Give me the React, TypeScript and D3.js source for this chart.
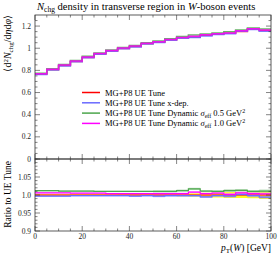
import * as d3 from "d3";

const BIN_EDGES = [0, 5, 10, 15, 20, 25, 30, 35, 40, 45, 50, 55, 60, 65, 70, 75, 80, 85, 90, 95, 100];

// reference: MG+P8 UE Tune
const REF = [0.766, 0.806, 0.843, 0.88, 0.917, 0.948, 0.975, 0.997, 1.015, 1.04, 1.055, 1.074, 1.092, 1.1, 1.117, 1.126, 1.135, 1.15, 1.172, 1.16];
const REF_ERR = [0.002, 0.002, 0.002, 0.002, 0.002, 0.002, 0.002, 0.003, 0.003, 0.003, 0.003, 0.003, 0.004, 0.005, 0.006, 0.007, 0.008, 0.008, 0.009, 0.011];

// ratios to reference
const RATIO_XDEP = [0.997, 0.997, 0.997, 0.998, 0.998, 0.998, 0.998, 0.998, 0.997, 0.998, 0.997, 0.998, 0.998, 0.998, 0.995, 0.998, 0.997, 1.002, 0.998, 0.994];
const RATIO_DYN05 = [1.012, 1.012, 1.011, 1.011, 1.011, 1.01, 1.01, 1.01, 1.01, 1.01, 1.01, 1.01, 1.012, 1.017, 1.011, 1.01, 1.012, 1.013, 1.01, 1.011];
const RATIO_DYN10 = [1.006, 1.006, 1.006, 1.005, 1.005, 1.005, 1.004, 1.004, 1.004, 1.004, 1.004, 1.004, 1.004, 1.008, 1.004, 1.005, 1.002, 1.006, 1.004, 1.003];
const BAND_ERR = [0.002, 0.002, 0.002, 0.002, 0.002, 0.002, 0.002, 0.002, 0.002, 0.002, 0.003, 0.003, 0.003, 0.003, 0.003, 0.003, 0.004, 0.004, 0.004, 0.004];

const MAIN_TICKS = [0, 0.2, 0.4, 0.6, 0.8, 1, 1.2];
const MAIN_LABELS = ["0", "0.2", "0.4", "0.6", "0.8", "1", "1.2"];
const RATIO_TICKS = [0.9, 0.95, 1.0, 1.05];
const RATIO_LABELS = ["0.9", "0.95", "1.0", "1.05"];
const X_TICKS = [0, 20, 40, 60, 80, 100];

const W = 280;
const H = 253;
const L = 35;
const R = 271;
const T = 15;
const MB = 159;
const RB = 231;
const FONT = "'Liberation Serif', serif";

const series = [
  { name: "MG+P8 UE Tune", ratio: REF.map(() => 1), err: REF_ERR, color: "#ff0000", band: "#ffff00", extra: null },
  { name: "MG+P8 UE Tune x-dep.", ratio: RATIO_XDEP, err: BAND_ERR, color: "#6a6aff", band: "#9999ff", extra: null },
  { name: "MG+P8 UE Tune Dynamic", ratio: RATIO_DYN05, err: BAND_ERR, color: "#4ca64c", band: "#99cc99", extra: "0.5" },
  { name: "MG+P8 UE Tune Dynamic", ratio: RATIO_DYN10, err: BAND_ERR, color: "#ff00ff", band: "#ff99ff", extra: "1.0" },
];

export default function App() {
  const x = d3.scaleLinear().domain([0, 100]).range([L, R]);
  const yMain = d3.scaleLinear().domain([0, 1.3]).range([MB, T]);
  const yRatio = d3.scaleLinear().domain([0.9, 1.1]).range([RB, MB]);

  const pts = (vals: number[]) => {
    const p = vals.map((v, i) => [BIN_EDGES[i], v] as [number, number]);
    p.push([BIN_EDGES[vals.length], vals[vals.length - 1]]);
    return p;
  };

  const mainLine = d3
    .line<[number, number]>()
    .x((d) => x(d[0]))
    .y((d) => yMain(d[1]))
    .curve(d3.curveStepAfter);
  const ratioLine = d3
    .line<[number, number]>()
    .x((d) => x(d[0]))
    .y((d) => yRatio(d[1]))
    .curve(d3.curveStepAfter);
  const ratioArea = d3
    .area<[number, number, number]>()
    .x((d) => x(d[0]))
    .y0((d) => yRatio(d[1]))
    .y1((d) => yRatio(d[2]))
    .curve(d3.curveStepAfter);

  const bandPts = (ratio: number[], err: number[]) => {
    const p = ratio.map((v, i) => [BIN_EDGES[i], v - err[i], v + err[i]] as [number, number, number]);
    const n = ratio.length - 1;
    p.push([BIN_EDGES[n + 1], ratio[n] - err[n], ratio[n] + err[n]]);
    return p;
  };

  const xMinor = d3.range(0, 101, 5);
  const mainMinor = d3.range(0, 1.3, 0.05);
  const ratioMinor = d3.range(0.9, 1.1001, 0.01);

  const tickStroke = "#333";

  return (
    <svg width={W} height={H} style={{ position: "absolute", left: 0, top: 0 }} fontFamily={FONT}>
      <rect width={W} height={H} fill="#fff" />

      {/* title */}
      <text x={37} y={10} fontSize={10.6}>
        <tspan fontStyle="italic">N</tspan>
        <tspan fontSize={7.5} dy={2}>chg</tspan>
        <tspan dy={-2}> density in transverse region in </tspan>
        <tspan fontStyle="italic">W</tspan>
        <tspan>-boson events</tspan>
      </text>

      {/* ratio bands */}
      {series.map((s, i) => (
        <path key={"b" + i} d={ratioArea(bandPts(s.ratio, s.err)) ?? ""} fill={s.band} opacity={i === 0 ? 0.9 : 0.6} />
      ))}
      {/* ratio lines */}
      {series.map((s, i) => (
        <path key={"r" + i} d={ratioLine(pts(s.ratio)) ?? ""} fill="none" stroke={s.color} strokeWidth={1.2} />
      ))}
      {/* main lines */}
      {series.map((s, i) => (
        <path
          key={"m" + i}
          d={mainLine(pts(REF.map((v, j) => v * s.ratio[j]))) ?? ""}
          fill="none"
          stroke={s.color}
          strokeWidth={1.5}
          opacity={0.85}
        />
      ))}

      {/* frames */}
      <rect x={L} y={T} width={R - L} height={MB - T} fill="none" stroke={tickStroke} strokeWidth={0.8} />
      <rect x={L} y={MB} width={R - L} height={RB - MB} fill="none" stroke={tickStroke} strokeWidth={0.8} />

      {/* x ticks */}
      {xMinor.map((v) => {
        const len = v % 20 === 0 ? 5 : 2.5;
        const xx = x(v);
        return (
          <g key={"xt" + v} stroke={tickStroke} strokeWidth={0.6}>
            <line x1={xx} x2={xx} y1={T} y2={T + len} />
            <line x1={xx} x2={xx} y1={MB - len} y2={MB + len} />
            <line x1={xx} x2={xx} y1={RB - len} y2={RB} />
          </g>
        );
      })}
      {X_TICKS.map((v) => (
        <text key={"xl" + v} x={x(v)} y={238.5} fontSize={7.5} textAnchor="middle" fill="#222">
          {v}
        </text>
      ))}

      {/* main y ticks */}
      {mainMinor.map((v) => {
        const major = MAIN_TICKS.some((m) => Math.abs(m - v) < 1e-6);
        const len = major ? 5 : 2.5;
        const yy = yMain(v);
        return (
          <g key={"my" + v} stroke={tickStroke} strokeWidth={0.6}>
            <line x1={L} x2={L + len} y1={yy} y2={yy} />
            <line x1={R - len} x2={R} y1={yy} y2={yy} />
          </g>
        );
      })}
      {MAIN_TICKS.map((v, i) => (
        <text key={"ml" + v} x={31} y={yMain(v) + 2.5} fontSize={7.5} textAnchor="end" fill="#222">
          {MAIN_LABELS[i]}
        </text>
      ))}

      {/* ratio y ticks */}
      {ratioMinor.map((v) => {
        const major = RATIO_TICKS.some((m) => Math.abs(m - v) < 1e-6);
        const len = major ? 5 : 2.5;
        const yy = yRatio(v);
        return (
          <g key={"ry" + v} stroke={tickStroke} strokeWidth={0.6}>
            <line x1={L} x2={L + len} y1={yy} y2={yy} />
            <line x1={R - len} x2={R} y1={yy} y2={yy} />
          </g>
        );
      })}
      {RATIO_TICKS.map((v, i) => (
        <text key={"rl" + v} x={31} y={yRatio(v) + 2.5} fontSize={7.5} textAnchor="end" fill="#222">
          {RATIO_LABELS[i]}
        </text>
      ))}

      {/* y labels */}
      <text transform={`translate(11,${T}) rotate(-90)`} fontSize={10} textAnchor="end">
        <tspan>⟨d</tspan>
        <tspan fontSize={7} dy={-3.5}>2</tspan>
        <tspan fontStyle="italic" dy={3.5}>N</tspan>
        <tspan fontSize={7} dy={2}>chg</tspan>
        <tspan dy={-2}>/</tspan>
        <tspan>d</tspan>
        <tspan fontStyle="italic">η</tspan>
        <tspan>d</tspan>
        <tspan fontStyle="italic">φ</tspan>
        <tspan>⟩</tspan>
      </text>
      <text transform={`translate(11,${MB + 2}) rotate(-90)`} fontSize={9.5} textAnchor="end">
        Ratio to UE Tune
      </text>

      {/* x label */}
      <text x={R} y={250.5} fontSize={9.5} textAnchor="end">
        <tspan fontStyle="italic">p</tspan>
        <tspan fontSize={7} dy={2}>T</tspan>
        <tspan dy={-2}>(</tspan>
        <tspan fontStyle="italic">W</tspan>
        <tspan>) [GeV]</tspan>
      </text>

      {/* legend */}
      {series.map((s, i) => {
        const yy = 92.5 + i * 10.3;
        return (
          <g key={"lg" + i}>
            <line x1={82} x2={100} y1={yy} y2={yy} stroke={s.color} strokeWidth={1.5} />
            <text x={105} y={yy + 3} fontSize={8.5}>
              <tspan>{s.name}</tspan>
              {s.extra && (
                <>
                  <tspan fontStyle="italic"> σ</tspan>
                  <tspan fontSize={6} dy={1.5}>eff</tspan>
                  <tspan dy={-1.5}> {s.extra} GeV</tspan>
                  <tspan fontSize={6} dy={-3}>2</tspan>
                </>
              )}
            </text>
          </g>
        );
      })}
    </svg>
  );
}
